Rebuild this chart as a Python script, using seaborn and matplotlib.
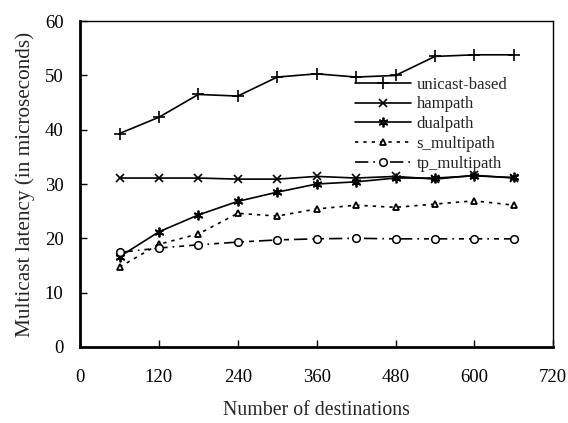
import matplotlib.pyplot as plt
import seaborn as sns
import pandas as pd

# data
destinations = [60, 120, 180, 240, 300, 360, 420, 480, 540, 600, 660]
unicast_based = [39.3, 42.3, 46.5, 46.2, 49.7, 50.3, 49.7, 50.0, 53.5, 53.8, 53.8]
hampath = [31.1, 31.1, 31.1, 30.9, 30.9, 31.4, 31.1, 31.4, 30.9, 31.6, 31.1]
dualpath = [16.6, 21.2, 24.3, 26.8, 28.5, 30.0, 30.4, 31.1, 31.1, 31.5, 31.2]
s_multipath = [14.7, 18.9, 20.8, 24.6, 24.1, 25.4, 26.1, 25.7, 26.3, 26.9, 26.1]
tp_multipath = [17.4, 18.2, 18.8, 19.3, 19.7, 19.9, 20.0, 19.9, 19.9, 19.9, 19.9]
x_ticks = [0, 120, 240, 360, 480, 600, 720]
y_ticks = [0, 10, 20, 30, 40, 50, 60]

sns.set_theme(style="white")
plt.rcParams['font.family'] = ['Liberation Serif', 'DejaVu Serif']

df = pd.DataFrame({
    'dest': destinations,
    'unicast-based': unicast_based,
    'hampath': hampath,
    'dualpath': dualpath,
    's_multipath': s_multipath,
    'tp_multipath': tp_multipath,
})

styles = {
    'unicast-based': dict(marker='+', ls='-', ms=8, mew=1.2),
    'hampath': dict(marker='x', ls='-', ms=6, mew=1.2),
    'dualpath': dict(marker=(6, 2, 0), ls='-', ms=7, mew=1.3),
    's_multipath': dict(marker='^', ls=(0, (2, 3)), ms=5, mew=1.3, mfc='white'),
    'tp_multipath': dict(marker='o', ls=(0, (8, 3, 1, 3, 3, 3)), ms=5.5, mew=1.1, mfc='white'),
}

fig, ax = plt.subplots(figsize=(5.68, 4.23), dpi=100)
fig.patch.set_facecolor('white')

for name, st in styles.items():
    sns.lineplot(data=df, x='dest', y=name, ax=ax, color='black', lw=1.2,
                 marker=st['marker'], linestyle=st['ls'], markersize=st['ms'],
                 markeredgewidth=st['mew'], markeredgecolor='black',
                 markerfacecolor=st.get('mfc', 'black'), label=name)

ax.set_xlim(0, 720)
ax.set_ylim(0, 60)
ax.set_xticks(x_ticks)
ax.set_yticks(y_ticks)
ax.tick_params(direction='in', length=5, width=1, labelsize=13.5, colors='black',
               bottom=True, left=True)
ax.tick_params(axis='x', pad=16)
ax.tick_params(axis='y', pad=12)
for side in ['left', 'bottom']:
    ax.spines[side].set_linewidth(2)
for side in ['top', 'right']:
    ax.spines[side].set_linewidth(1)
for spine in ax.spines.values():
    spine.set_color('black')

ax.set_xlabel('Number of destinations', fontsize=14.3, labelpad=11)
ax.set_ylabel('Multicast latency (in microseconds)', fontsize=15.3, labelpad=7)

leg = ax.legend(loc='upper left', bbox_to_anchor=(0.577, 0.835), frameon=False,
                fontsize=12, handlelength=3.4, handletextpad=0.3,
                labelspacing=0.23, borderpad=0.1, borderaxespad=0)

plt.subplots_adjust(left=0.141, right=0.974, top=0.95, bottom=0.18)
plt.savefig('out.png', dpi=100, facecolor='white')
plt.close()
